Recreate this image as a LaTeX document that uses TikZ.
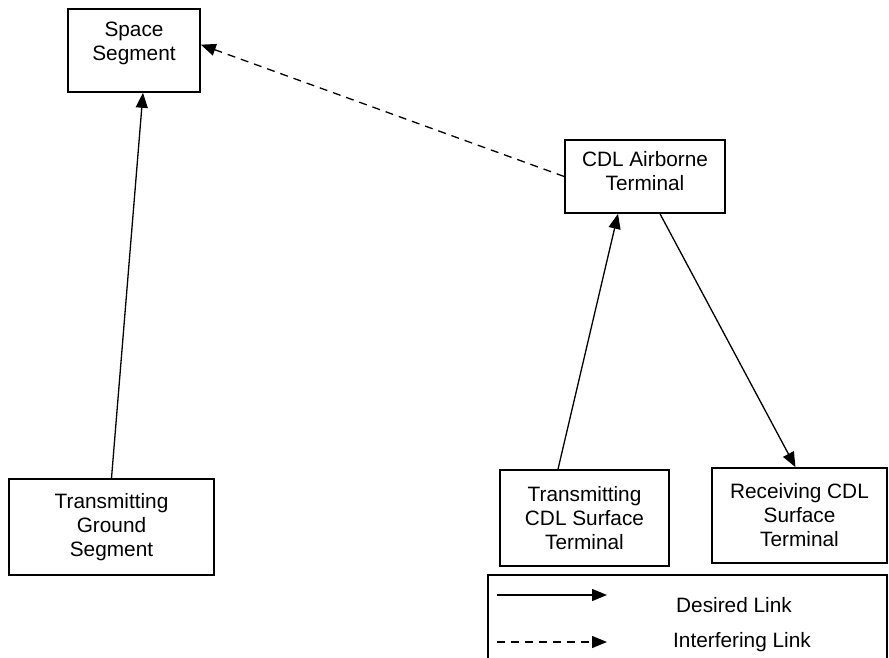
\documentclass[tikz,border=0pt]{standalone}
\usepackage{fontspec}
\setmainfont{Liberation Sans}
\usetikzlibrary{arrows.meta}

\tikzstyle{segbox} = [draw=black, line width=1.6pt, rectangle, align=center, inner sep=0pt, font=\fontsize{20.8}{24}\selectfont]
\tikzstyle{boxtext} = [align=center, inner sep=0pt, font=\fontsize{20.8}{24}\selectfont]
\tikzstyle{link} = [line width=1.3pt, -{Triangle[length=15pt,width=12pt]}]
\tikzstyle{interlink} = [link, dash pattern=on 8pt off 6pt]

\begin{document}
\begin{tikzpicture}[x=1pt, y=-1pt]
\useasboundingbox (0,0) rectangle (889,658);

\node[segbox, minimum width=132pt, minimum height=83pt] (space) at (134,50.5) {};
\node[boxtext] (spacetext) at ([yshift=7pt]space.center) {Space\\Segment};

\node[segbox, minimum width=160pt, minimum height=73pt] (air) at (645,176.5) {};
\node[boxtext] (airtext) at ([yshift=5pt]air.center) {CDL Airborne\\Terminal};

\node[segbox, minimum width=205pt, minimum height=96pt] (ground) at (111.5,527) {Transmitting\\Ground\\Segment};
\node[segbox, minimum width=169pt, minimum height=96pt] (txcdl) at (584.5,518) {Transmitting\\CDL Surface\\Terminal};
\node[segbox, minimum width=175pt, minimum height=95pt] (rxcdl) at (799.5,515.5) {Receiving CDL\\Surface\\Terminal};

\draw[link] (ground.north) -- ([xshift=9pt]space.south);
\draw[interlink] (air.west) -- (space.5);
\draw[link] ([xshift=-26.5pt]txcdl.north) -- ([xshift=-27pt]air.south);
\draw[link] ([xshift=15pt]air.south) -- ([xshift=-4pt]rxcdl.north);

% legend
\node[segbox, minimum width=399pt, minimum height=92pt] (legend) at (687.5,621) {};
\coordinate (desiredA) at (497,595);
\coordinate (desiredB) at (607,595);
\coordinate (interA) at (497,642);
\coordinate (interB) at (607,642);
\draw[link] (desiredA) -- (desiredB);
\draw[interlink] (interA) -- (interB);
\node[boxtext] (desiredtext) at (734,605) {Desired Link};
\node[boxtext] (intertext) at (742,642) {Interfering Link};
\end{tikzpicture}
\end{document}
